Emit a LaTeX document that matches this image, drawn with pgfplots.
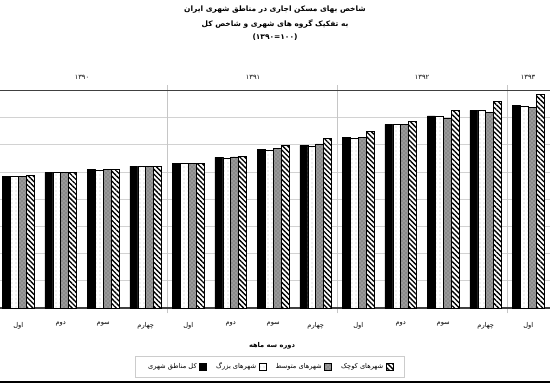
\documentclass[border=0pt]{standalone}
\usepackage{fontspec}
\usepackage{pgfplots}
\pgfplotsset{compat=1.18}
\usetikzlibrary{patterns,patterns.meta}
\newfontfamily\arabicfont[Script=Arabic]{DejaVu Sans}
\TeXXeTstate=1
\newcommand{\R}[1]{\beginR #1\endR}

\pgfplotstableread{
x total big mid small
0 97.0 97.0 97.0 97.3
1 99.5 99.5 99.5 99.6
2 101.7 101.5 101.7 102.0
3 104.4 104.4 104.4 104.4
4 106.6 106.3 106.5 106.4
5 110.8 110.3 111.2 111.4
6 116.7 115.7 117.1 119.6
7 119.6 118.6 120.6 124.5
8 125.2 124.8 125.7 129.6
9 135.0 135.0 135.0 137.5
10 141.2 141.0 139.7 145.1
11 145.3 145.1 143.9 152.2
12 149.0 148.7 147.3 157.3
}\datatable

\begin{document}
\begin{tikzpicture}[x=0.75pt,y=0.75pt]
\useasboundingbox (0,0) rectangle (550,383);
\fill[white] (0,0) rectangle (550,383);
\begin{axis}[
  at={(-2.25pt,56.25pt)}, anchor=south west,
  scale only axis, width=414.375pt, height=163.2pt,
  xmin=-0.5, xmax=12.5, ymin=0, ymax=160,
  axis line style={draw=none},
  ybar=0pt, bar width=0.186,
  xtick=data,
  xticklabels={{\R{اول}},{\R{دوم}},{\R{سوم}},{\R{چهارم}},{\R{اول}},{\R{دوم}},{\R{سوم}},{\R{چهارم}},{\R{اول}},{\R{دوم}},{\R{سوم}},{\R{چهارم}},{\R{اول}}},
  xticklabel style={font=\arabicfont\fontsize{5}{6}\selectfont, yshift=-7pt},
  major tick length=0pt,
  ytick={20,40,...,140}, yticklabels={},
  ymajorgrids, major grid style={gray!35, line width=0.6pt},
  extra y ticks={0,160}, extra y tick labels={},
  extra y tick style={grid=major, major grid style={black!75, line width=1pt}},
  extra x ticks={3.5,7.5,11.5}, extra x tick labels={},
  extra x tick style={grid=major, major grid style={gray!45, line width=0.6pt},
     major tick length=4pt, tick align=outside, tick style={gray!45, line width=0.6pt}},
  legend plot pos=right,
  legend columns=4,
  legend style={at={(axis description cs:0.493,-0.269)}, anchor=center,
     draw=gray!40, line width=0.5pt, font=\arabicfont\fontsize{5}{6}\selectfont,
     inner xsep=8pt, inner ysep=3pt,
     /tikz/every even column/.append style={column sep=5pt}},
  legend image code/.code={\draw[#1, line width=0.4pt] (0pt,-2.6pt) rectangle (5.2pt,2.6pt);},
]
\addplot[draw=black, line width=0.4pt, fill=black] table[x=x,y=total]{\datatable};
\addplot[draw=black, line width=0.4pt, fill=white, postaction={pattern=dots, pattern color=gray!45}] table[x=x,y=big]{\datatable};
\addplot[draw=black, line width=0.4pt, fill=black!40, postaction={pattern=crosshatch dots, pattern color=black!65}] table[x=x,y=mid]{\datatable};
\addplot[draw=black, line width=0.4pt, fill=white, postaction={pattern={Lines[angle=-45,distance=2.6pt,line width=1pt]}, pattern color=black}] table[x=x,y=small]{\datatable};
\legend{{\R{کل مناطق شهری}},{\R{شهرهای بزرگ}},{\R{شهرهای متوسط}},{\R{شهرهای کوچک}}}
\end{axis}
\node[font=\arabicfont\bfseries\fontsize{5.6}{7}\selectfont] at (275,373) {\R{شاخص بهای مسکن اجاری در مناطق شهری ایران}};
\node[font=\arabicfont\bfseries\fontsize{5.6}{7}\selectfont] at (275,359) {\R{به تفکیک گروه های شهری و شاخص کل}};
\node[font=\arabicfont\bfseries\fontsize{5.6}{7}\selectfont] at (275,346) {(۱۰۰=۱۳۹۰)};
\node[font=\arabicfont\fontsize{5}{6}\selectfont] at (82,306) {۱۳۹۰};
\node[font=\arabicfont\fontsize{5}{6}\selectfont] at (253,306) {۱۳۹۱};
\node[font=\arabicfont\fontsize{5}{6}\selectfont] at (422,306) {۱۳۹۲};
\node[font=\arabicfont\fontsize{5}{6}\selectfont] at (528,306) {۱۳۹۳};
\node[font=\arabicfont\bfseries\fontsize{5}{6}\selectfont] at (272,37) {\R{دوره سه ماهه}};
\draw[black, line width=1.5pt] (0,1.5) -- (550,1.5);
\end{tikzpicture}
\end{document}
